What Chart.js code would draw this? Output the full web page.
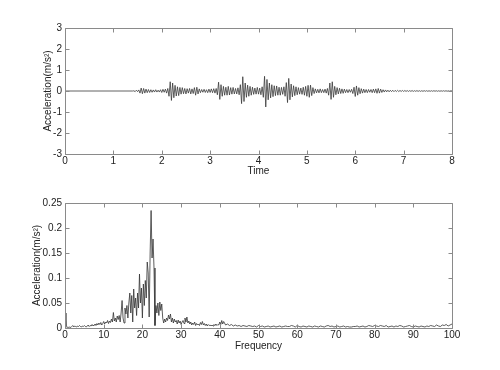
<!DOCTYPE html>
<html>
<head>
<meta charset="utf-8">
<script src="https://cdn.jsdelivr.net/npm/chart.js@4.4.1/dist/chart.umd.min.js"></script>
<style>
  html, body { margin: 0; padding: 0; background: #ffffff; }
  #wrap { position: relative; width: 500px; height: 370px; background: #ffffff; }
  canvas { position: absolute; left: 0; }
  #top { top: 0; }
  #bot { top: 185px; }
</style>
</head>
<body>
<div id="wrap">
  <canvas id="top" width="500" height="185"></canvas>
  <canvas id="bot" width="500" height="185"></canvas>
</div>
<script>
// ---------------- DATA ----------------
// Time-history: quiet until 1.4 s, then sampled every 0.025 s up to 8 s
const timeStart = 1.4;
const timeStep = 0.025;
const accel = [
  // 1.400 - 1.975
  0,0.01,-0.03,0.04,-0.03,0.05,-0.10,0.14,-0.13,0.12,
  -0.10,0.09,-0.08,0.07,-0.07,0.06,-0.06,0.05,-0.05,0.06,
  -0.05,0.04,-0.05,0.06,
  // 2.000 - 2.975
  -0.07,0.08,-0.06,0.09,-0.10,0.12,-0.25,0.44,-0.45,0.38,
  -0.32,0.27,-0.24,0.20,-0.22,0.17,-0.15,0.16,-0.13,0.12,
  -0.14,0.11,-0.10,0.12,-0.14,0.10,-0.12,0.16,-0.20,0.18,
  -0.14,0.10,-0.08,0.07,-0.06,0.08,-0.07,0.06,-0.08,0.09,
  // 3.000 - 3.975
  -0.07,0.10,-0.08,0.11,-0.10,0.12,-0.18,0.42,-0.40,0.30,
  -0.25,0.22,-0.20,0.18,-0.20,0.22,-0.19,0.16,-0.15,0.17,
  -0.14,0.12,-0.14,0.15,-0.18,0.30,-0.60,0.68,-0.50,0.38,
  -0.30,0.28,-0.25,0.22,-0.20,0.18,-0.16,0.14,-0.15,0.17,
  // 4.000 - 4.975
  -0.15,0.14,-0.18,0.20,-0.30,0.70,-0.76,0.55,-0.42,0.38,
  -0.33,0.30,-0.27,0.25,-0.22,0.24,-0.20,0.18,-0.20,0.17,
  -0.16,0.20,-0.25,0.40,-0.55,0.60,-0.42,0.33,-0.28,0.25,
  -0.22,0.20,-0.18,0.16,-0.15,0.14,-0.16,0.18,-0.20,0.22,
  // 5.000 - 5.975
  -0.25,0.27,-0.30,0.28,-0.22,0.16,-0.12,0.10,-0.09,0.08,
  -0.09,0.10,-0.08,0.07,-0.08,0.09,-0.10,0.12,-0.20,0.38,
  -0.40,0.44,-0.30,0.22,-0.18,0.16,-0.14,0.13,-0.12,0.10,
  -0.11,0.09,-0.08,0.07,-0.08,0.07,-0.06,0.08,-0.12,0.18,
  // 6.000 - 6.975
  -0.26,0.24,-0.20,0.16,-0.13,0.11,-0.10,0.09,-0.08,0.07,
  -0.08,0.07,-0.06,0.07,-0.08,0.09,-0.08,0.10,-0.11,0.12,
  -0.10,0.09,-0.07,0.06,-0.05,0.05,-0.04,0.04,-0.04,0.035,
  -0.03,0.035,-0.03,0.03,-0.025,0.03,-0.025,0.025,-0.02,0.025,
  // 7.000 - 7.975
  -0.02,0.022,-0.018,0.02,-0.02,0.018,-0.016,0.02,-0.018,0.016,
  -0.015,0.018,-0.016,0.015,-0.017,0.014,-0.015,0.016,-0.013,0.015,
  -0.014,0.012,-0.014,0.013,-0.012,0.014,-0.011,0.012,-0.013,0.011,
  -0.012,0.01,-0.011,0.012,-0.01,0.011,-0.01,0.009,-0.01,0.009,
  // 8.000
  0
];

// Spectrum: 0 - 40.75 Hz every 0.25 Hz
const specLowStart = 0;
const specLowStep = 0.25;
const specLow = [
  0.030,0.004,0.001,0.002,  0.001,0.002,0.001,0.003,  0.005,0.002,0.004,0.003,
  0.002,0.004,0.003,0.005,  0.003,0.002,0.004,0.003,  0.005,0.003,0.002,0.004,
  0.006,0.003,0.005,0.004,  0.007,0.004,0.006,0.008,  0.005,0.009,0.006,0.010,
  0.007,0.011,0.006,0.009,  0.013,0.008,0.012,0.010,  0.015,0.009,0.014,0.011,
  0.018,0.012,0.031,0.014,  0.020,0.012,0.024,0.017,  0.025,0.012,0.030,0.055,
  0.020,0.010,0.040,0.028,  0.045,0.020,0.050,0.070,  0.030,0.065,0.012,0.078,
  0.040,0.060,0.025,0.070,  0.040,0.108,0.050,0.080,  0.020,0.088,0.045,0.095,
  0.060,0.132,0.110,0.022,  0.150,0.235,0.140,0.178,  0.120,0.005,0.045,0.030,
  0.050,0.025,0.052,0.035,  0.048,0.020,0.010,0.018,  0.012,0.020,0.015,0.026,
  0.018,0.028,0.012,0.020,  0.010,0.018,0.012,0.015,  0.008,0.016,0.010,0.014,
  0.007,0.012,0.015,0.009,  0.020,0.012,0.022,0.010,  0.014,0.008,0.012,0.006,
  0.010,0.007,0.012,0.005,  0.009,0.006,0.008,0.005,  0.011,0.007,0.013,0.006,
  0.009,0.005,0.008,0.004,  0.007,0.005,0.006,0.004,  0.006,0.004,0.007,0.005,
  0.008,0.005,0.007,0.006,  0.012,0.007,0.015,0.008
];
// Spectrum: 41 - 100 Hz every 0.5 Hz
const specHighStart = 41;
const specHighStep = 0.5;
const specHigh = [
  0.013,0.006, 0.008,0.005, 0.007,0.004, 0.006,0.004, 0.005,0.003,
  0.005,0.004, 0.003,0.005, 0.004,0.003, 0.004,0.002, 0.005,0.003,
  0.004,0.002, 0.003,0.004, 0.002,0.003, 0.004,0.002, 0.003,0.004,
  0.002,0.003, 0.004,0.003, 0.003,0.005, 0.004,0.002, 0.005,0.003,
  0.002,0.004, 0.003,0.002, 0.004,0.003, 0.002,0.004, 0.003,0.002,
  0.004,0.003, 0.002,0.004, 0.005,0.003, 0.004,0.002, 0.003,0.004,
  0.002,0.003, 0.004,0.002, 0.003,0.002, 0.002,0.003, 0.003,0.004,
  0.002,0.003, 0.004,0.002, 0.003,0.005, 0.004,0.003, 0.005,0.004,
  0.003,0.005, 0.004,0.003, 0.005,0.002, 0.003,0.004, 0.002,0.004,
  0.003,0.005, 0.004,0.002, 0.003,0.004, 0.005,0.003, 0.002,0.004,
  0.003,0.002, 0.004,0.003, 0.002,0.004, 0.003,0.005, 0.004,0.003,
  0.006,0.004, 0.003,0.006, 0.005,0.007, 0.004,0.006, 0.008
];

// Axis text
const topXTitle = 'Time';
const botXTitle = 'Frequency';
const yTitle = 'Acceleration(m/s²)';

// ---------------- BUILD POINTS ----------------
const timePoints = [{x: 0, y: 0}];
accel.forEach((v, i) => timePoints.push({x: +(timeStart + i * timeStep).toFixed(3), y: v}));

const specPoints = [];
specLow.forEach((v, i) => specPoints.push({x: +(specLowStart + i * specLowStep).toFixed(3), y: v}));
specHigh.forEach((v, i) => specPoints.push({x: +(specHighStart + i * specHighStep).toFixed(3), y: v}));

// ---------------- STYLE ----------------
const FONT = '"Liberation Sans", Arial, Helvetica, sans-serif';
const TXT = '#222222';
const BOX = '#8a8a8a';

const boxTicks = {
  id: 'boxTicks',
  afterDatasetsDraw(chart) {
    const {ctx, chartArea: a, scales} = chart;
    const L = Math.round(a.left) + 0.5, R = Math.round(a.right) + 0.5;
    const T = Math.round(a.top) + 0.5, B = Math.round(a.bottom) + 0.5;
    ctx.save();
    ctx.strokeStyle = BOX;
    ctx.lineWidth = 1;
    ctx.beginPath();
    ctx.rect(L, T, R - L, B - T);
    ctx.stroke();
    const len = 4;
    ctx.beginPath();
    scales.x.ticks.forEach(t => {
      const px = Math.round(scales.x.getPixelForValue(t.value)) + 0.5;
      ctx.moveTo(px, B); ctx.lineTo(px, B - len);
      ctx.moveTo(px, T); ctx.lineTo(px, T + len);
    });
    scales.y.ticks.forEach(t => {
      const py = Math.round(scales.y.getPixelForValue(t.value)) + 0.5;
      ctx.moveTo(L, py); ctx.lineTo(L + len, py);
      ctx.moveTo(R, py); ctx.lineTo(R - len, py);
    });
    ctx.stroke();
    ctx.restore();
  }
};

function makeChart(id, points, cfg) {
  return new Chart(document.getElementById(id), {
    type: 'line',
    data: {
      datasets: [{
        data: points,
        borderColor: cfg.lineColor,
        borderWidth: cfg.lineWidth,
        pointRadius: 0,
        tension: 0,
        fill: false
      }]
    },
    options: {
      responsive: false,
      animation: false,
      devicePixelRatio: 1,
      parsing: false,
      layout: { padding: cfg.padding },
      plugins: { legend: { display: false }, tooltip: { enabled: false } },
      scales: {
        x: {
          type: 'linear',
          min: cfg.xMin, max: cfg.xMax,
          afterFit: s => { s.height = cfg.xHeight; },
          grid: { display: false, drawTicks: false },
          border: { display: false },
          ticks: {
            stepSize: cfg.xStep, padding: 1, color: TXT,
            font: { family: FONT, size: 10 },
            maxRotation: 0, autoSkip: false
          },
          title: {
            display: true, text: cfg.xTitle, color: TXT,
            font: { family: FONT, size: 10 },
            padding: { top: 0, bottom: cfg.xTitlePad }
          }
        },
        y: {
          type: 'linear',
          min: cfg.yMin, max: cfg.yMax,
          afterFit: s => { s.width = cfg.yWidth; },
          grid: { display: false, drawTicks: false },
          border: { display: false },
          ticks: {
            stepSize: cfg.yStep, padding: 3, color: TXT,
            font: { family: FONT, size: 10 },
            autoSkip: false,
            callback: v => String(Number(v.toFixed(2)))
          },
          title: {
            display: true, text: yTitle, color: TXT,
            font: { family: FONT, size: 10 },
            padding: { top: cfg.yTitlePad, bottom: 0 }
          }
        }
      }
    },
    plugins: [boxTicks]
  });
}

makeChart('top', timePoints, {
  lineColor: '#3a3a3a', lineWidth: 0.8,
  padding: { left: 0, right: 48, top: 28, bottom: 0 },
  xMin: 0, xMax: 8, xStep: 1, xHeight: 31, xTitle: topXTitle, xTitlePad: 8,
  yMin: -3, yMax: 3, yStep: 1, yWidth: 65, yTitlePad: 42
});

makeChart('bot', specPoints, {
  lineColor: '#333333', lineWidth: 0.8,
  padding: { left: 0, right: 48, top: 18, bottom: 0 },
  xMin: 0, xMax: 100, xStep: 10, xHeight: 42, xTitle: botXTitle, xTitlePad: 18,
  yMin: 0, yMax: 0.25, yStep: 0.05, yWidth: 65, yTitlePad: 31
});
</script>
</body>
</html>
